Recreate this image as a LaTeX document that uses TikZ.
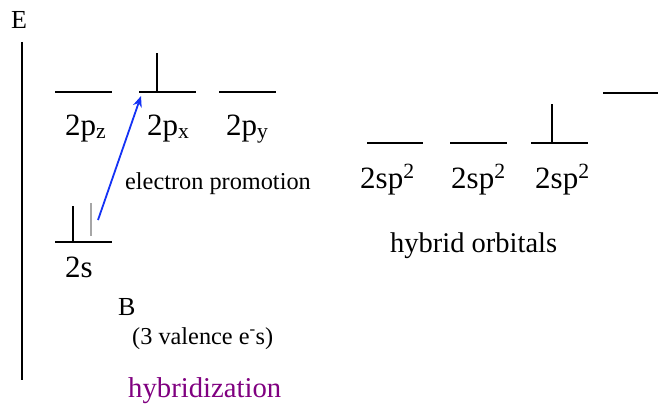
\documentclass[tikz,border=0pt]{standalone}
\usepackage{fontspec}
\setmainfont{Liberation Serif}
\usetikzlibrary{arrows.meta}
\definecolor{promo}{RGB}{20,50,245}
\definecolor{hyb}{RGB}{128,0,128}
\begin{document}
\begin{tikzpicture}[x=1pt,y=-1pt,
  level/.style={line width=2pt},
  spin/.style={line width=1.8pt},
  lbl/.style={anchor=base west,inner sep=0pt,font=\fontsize{31}{33}\selectfont},
  small/.style={anchor=base west,inner sep=0pt,font=\fontsize{24.3}{26}\selectfont}]
\useasboundingbox (0,0) rectangle (658,404);
% energy axis
\node[anchor=base west,inner sep=0pt,font=\fontsize{26}{28}\selectfont] (E) at (11,29) {E};
\coordinate (axt) at (22,42);
\coordinate (axb) at (22,380);
\draw[line width=2pt] (axt) -- (axb);
% 2p levels
\coordinate (pzl) at (55,92); \coordinate (pzr) at (112,92);
\coordinate (pxl) at (139,92); \coordinate (pxr) at (196,92);
\coordinate (pyl) at (219,92); \coordinate (pyr) at (276,92);
\draw[level] (pzl) -- (pzr);
\draw[level] (pxl) -- (pxr);
\draw[level] (pyl) -- (pyr);
\coordinate (pxs) at (157,92); \coordinate (pxt) at (157,53);
\draw[spin] (pxs) -- (pxt);
\node[lbl] (lpz) at (65,135) {2p\textsubscript{z}};
\node[lbl] (lpx) at (147,135) {2p\textsubscript{x}};
\node[lbl] (lpy) at (226,135) {2p\textsubscript{y}};
% 2s level
\coordinate (sl) at (55,242); \coordinate (sr) at (112,242);
\draw[level] (sl) -- (sr);
\coordinate (s1b) at (73,242); \coordinate (s1t) at (73,206);
\draw[spin] (s1b) -- (s1t);
\coordinate (s2b) at (91,236); \coordinate (s2t) at (91,203);
\draw[spin,gray!70] (s2b) -- (s2t);
\node[lbl] (ls) at (65,277) {2s};
% promotion arrow
\coordinate (ps) at (98,220);
\coordinate (pe) at (141,96);
\draw[promo,line width=1.8pt,-{Stealth[length=11pt,width=9pt]}] (ps) -- (pe);
\node[small] (ep) at (125,189) {electron promotion};
% hybrid levels
\coordinate (h1l) at (367,143); \coordinate (h1r) at (423,143);
\coordinate (h2l) at (450,143); \coordinate (h2r) at (507,143);
\coordinate (h3l) at (531,143); \coordinate (h3r) at (588,143);
\draw[level] (h1l) -- (h1r);
\draw[level] (h2l) -- (h2r);
\draw[level] (h3l) -- (h3r);
\coordinate (h3s) at (552,143); \coordinate (h3t) at (552,104);
\draw[spin] (h3s) -- (h3t);
\coordinate (tl) at (603,93); \coordinate (tr) at (658,93);
\draw[level] (tl) -- (tr);
\node[lbl] (lh1) at (360,188) {2sp\textsuperscript{2}};
\node[lbl] (lh2) at (451,188) {2sp\textsuperscript{2}};
\node[lbl] (lh3) at (535,188) {2sp\textsuperscript{2}};
\node[anchor=base west,inner sep=0pt,font=\fontsize{28.5}{30}\selectfont] (ho) at (390,252) {hybrid orbitals};
% labels
\node[anchor=base west,inner sep=0pt,font=\fontsize{26}{28}\selectfont] (B) at (118,315) {B};
\node[small] (ve) at (132,344) {(3 valence e\textsuperscript{-}s)};
\node[anchor=base west,inner sep=0pt,font=\fontsize{28.7}{30}\selectfont,text=hyb] (hz) at (128,397) {hybridization};
\end{tikzpicture}
\end{document}
